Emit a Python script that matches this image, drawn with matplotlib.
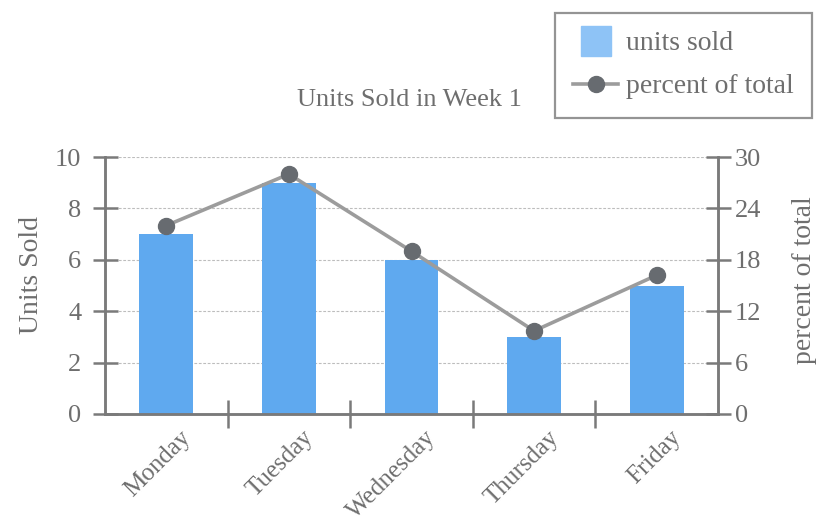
import matplotlib.pyplot as plt
import matplotlib.transforms as mtransforms
from matplotlib.lines import Line2D
import numpy as np

# 数据
days = ['Monday', 'Tuesday', 'Wednesday', 'Thursday', 'Friday']
units_sold = [7, 9, 6, 3, 5]
percent_of_total = [22, 28, 19, 9.7, 16.2]

# 样式常量
text_color = '#6e6e6e'
axis_color = '#7a7a7a'
bar_color = '#5fa9ef'
legend_patch_color = '#8ec3f6'
line_color = '#9c9c9c'
marker_color = '#676b70'

plt.rcParams['font.family'] = ['Liberation Serif', 'DejaVu Serif']
plt.rcParams['text.color'] = text_color

fig = plt.figure(figsize=(8.18, 5.22), dpi=100)
ax = fig.add_axes([105 / 818, 1 - 414 / 522, 613 / 818, 257 / 522])
ax2 = ax.twinx()

x = np.arange(len(days))
ax.bar(x, units_sold, width=0.44, color=bar_color, zorder=2)
ax2.plot(x, percent_of_total, color=line_color, lw=2.6, marker='o',
         markersize=11.5, markerfacecolor=marker_color,
         markeredgecolor=marker_color, zorder=3)

ax.set_xlim(-0.5, len(days) - 0.5)
ax.set_ylim(0, 10)
ax2.set_ylim(0, 30)
ax.set_yticks(range(0, 11, 2))
ax2.set_yticks(range(0, 31, 6))

# 网格线
for y in range(2, 11, 2):
    ax.axhline(y, color='#bdbdbd', lw=0.8, ls=(0, (2.5, 1.5)), zorder=1)

# 坐标轴
for a in (ax, ax2):
    a.spines['top'].set_visible(False)
    for s in ('left', 'right', 'bottom'):
        a.spines[s].set_color(axis_color)
        a.spines[s].set_linewidth(1.8)
ax.tick_params(axis='y', direction='inout', length=18, width=1.8,
               color=axis_color, labelsize=19, labelcolor=text_color, pad=8)
ax2.tick_params(axis='y', direction='inout', length=18, width=1.8,
                color=axis_color, labelsize=19, labelcolor=text_color, pad=3)

# x轴: 主刻度为分隔线, 次刻度放标签
ax.set_xticks(x[:-1] + 0.5)
ax.set_xticklabels([])
ax.tick_params(axis='x', which='major', direction='inout', length=20,
               width=1.8, color=axis_color)
ax.set_xticks(x, minor=True)
ax.set_xticklabels(days, minor=True, rotation=45, ha='right', va='top')
ax.tick_params(axis='x', which='minor', length=0, pad=9,
               labelsize=18, labelcolor=text_color)
offset = mtransforms.ScaledTranslation(0.29, 0, fig.dpi_scale_trans)
for lbl in ax.get_xticklabels(minor=True):
    lbl.set_transform(lbl.get_transform() + offset)

ax.set_ylabel('Units Sold', fontsize=20, color=text_color)
ax.yaxis.set_label_coords(-0.1, 0.54)
ax2.set_ylabel('percent of total', fontsize=20, color=text_color)
ax2.yaxis.set_label_coords(1.121, 0.52)

fig.text(409 / 818, 1 - 100 / 522, 'Units Sold in Week 1', fontsize=19,
         ha='center', va='center', color=text_color)

# 图例
handles = [
    Line2D([], [], ls='none', marker='s', markersize=22,
           markerfacecolor=legend_patch_color, markeredgecolor=legend_patch_color),
    Line2D([], [], color=line_color, lw=2.6, marker='o', markersize=11.5,
           markerfacecolor=marker_color, markeredgecolor=marker_color),
]
leg = fig.legend(handles, ['units sold', 'percent of total'],
                 loc='upper right', bbox_to_anchor=(812 / 818, 1 - 13 / 522),
                 fontsize=20, frameon=True, fancybox=False,
                 handlelength=1.6, handletextpad=0.3, labelspacing=0.63,
                 borderpad=0.65, borderaxespad=0)
leg.get_frame().set_edgecolor(axis_color)
leg.get_frame().set_linewidth(1.6)
for t in leg.get_texts():
    t.set_color(text_color)

fig.savefig('out.png', dpi=100)
